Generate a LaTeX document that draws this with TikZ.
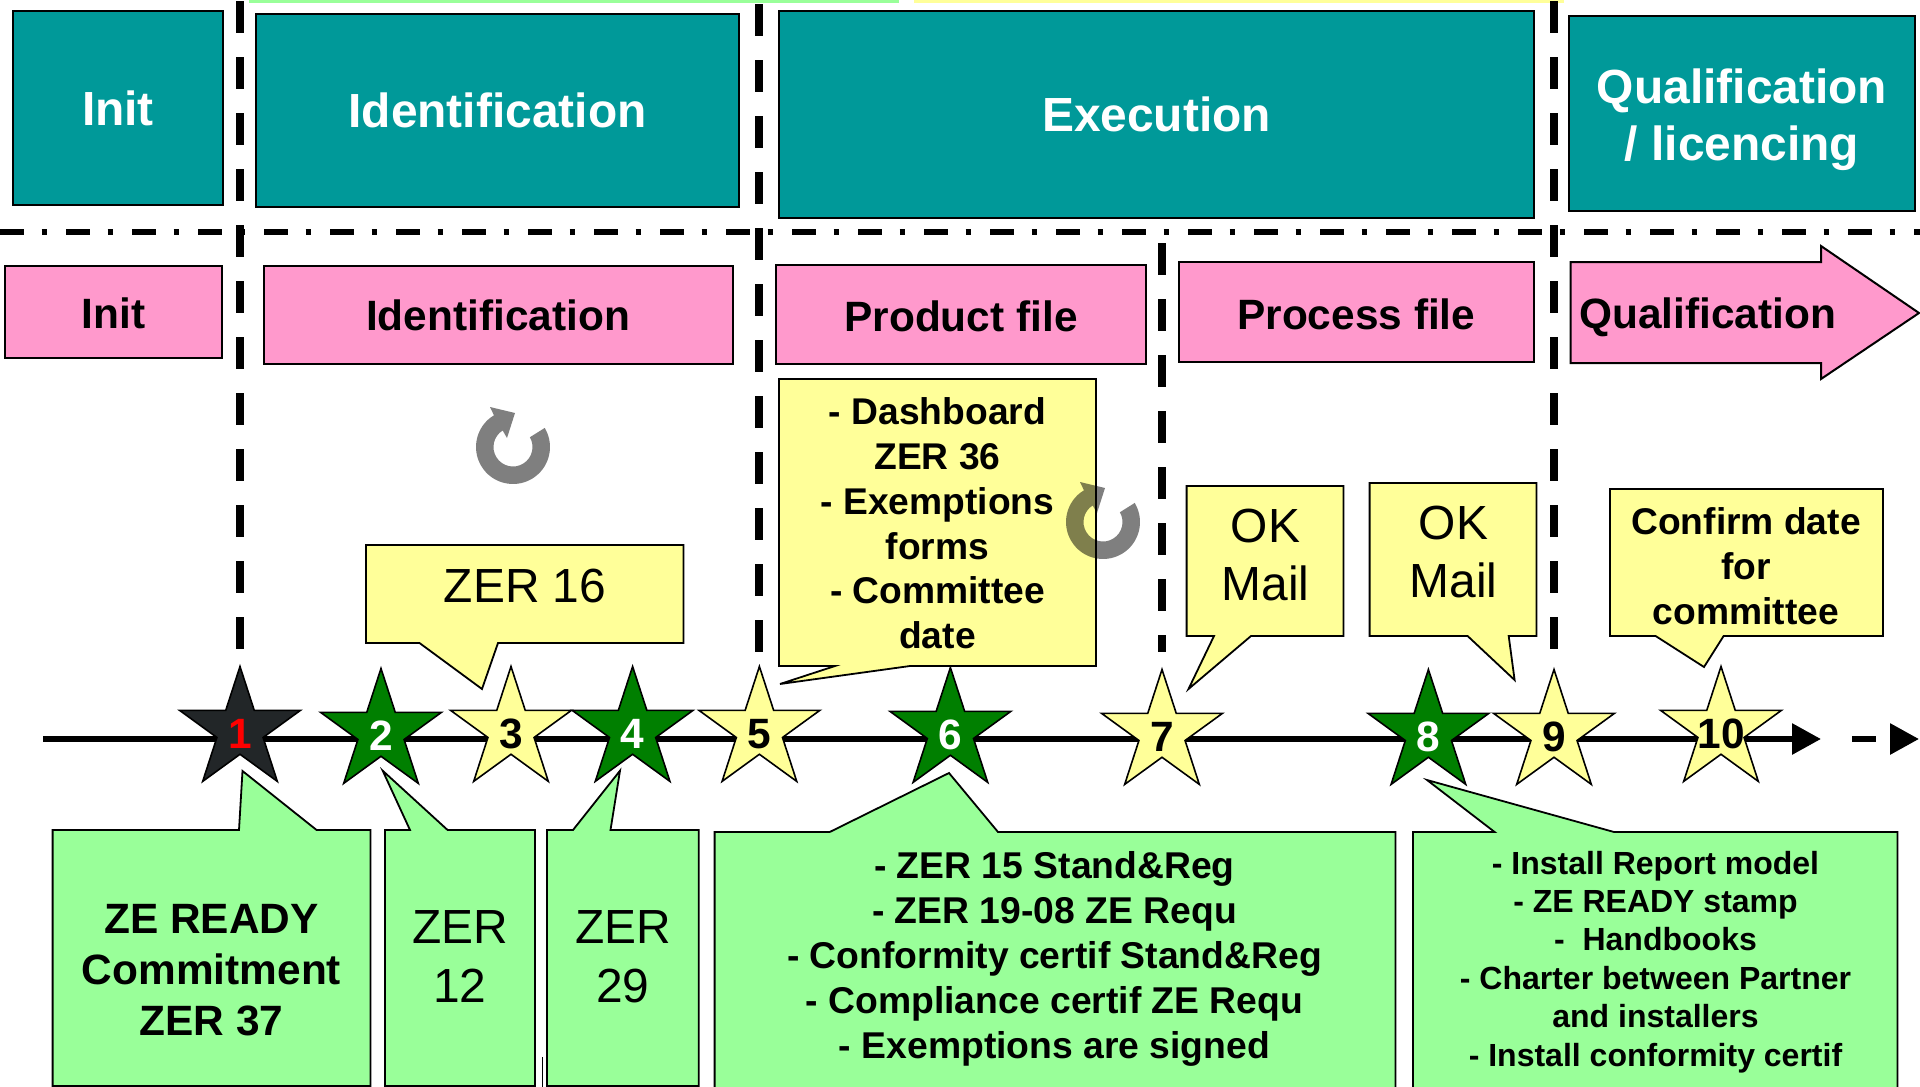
\documentclass[tikz,border=0pt]{standalone}
\usepackage{fontspec}
\setmainfont{Liberation Sans}
\usetikzlibrary{shapes.geometric,arrows.meta}
\definecolor{tealbox}{HTML}{009999}
\definecolor{pinkbox}{HTML}{FF99CC}
\definecolor{notey}{HTML}{FFFF99}
\definecolor{noteg}{HTML}{99FF99}
\definecolor{stargreen}{HTML}{007F00}
\definecolor{stardark}{HTML}{222628}
\newcommand{\starnum}[1]{\makebox[0pt]{\raisebox{-18.5pt}[0pt][0pt]{#1}}}
\newcommand{\fs}[2]{\fontsize{#1pt}{#2pt}\selectfont}
\newcommand{\topst}{\rule{0pt}{.75em}}
\newcommand{\botst}{\rule[-.2em]{0pt}{.2em}}
\newcommand{\lowerby}[2]{\raisebox{-#1}[\height][\depth]{#2}}
\tikzset{
  x=1pt,y=-1pt,
  phasebox/.style={draw=black,line width=2pt,fill=tealbox,text=white,inner sep=0pt,font=\fs{47.9}{57}\bfseries},
  stagebox/.style={draw=black,line width=2pt,fill=pinkbox,text=black,inner sep=0pt,font=\fs{42.4}{50}\bfseries},
  stagetext/.style={inner sep=0pt,font=\fs{42.4}{50}\bfseries},
  vline/.style={line width=8pt,dash pattern=on 32pt off 24pt},
  hline/.style={line width=6pt,dash pattern=on 24pt off 17.5pt on 5pt off 19.5pt},
  axisline/.style={line width=6pt,-{Triangle[length=29pt,width=30pt]}},
  axistail/.style={line width=6pt,dash pattern=on 24pt off 100pt,-{Triangle[length=29pt,width=30pt]}},
  yellownote/.style={draw=black,line width=1.8pt,fill=notey,line join=miter},
  greennote/.style={draw=black,line width=1.8pt,fill=noteg,line join=miter},
  milestone/.style={star,star points=5,star point ratio=2.618,minimum size=127pt,inner sep=0pt,outer sep=0pt,draw=black,line width=1.6pt,font=\fs{42.4}{48}\bfseries},
  okstar/.style={milestone,fill=notey,text=black},
  gostar/.style={milestone,fill=stargreen,text=white},
  firststar/.style={milestone,fill=stardark,text=red},
  notetext/.style={inner sep=0pt,align=center},
  rotmark/.pic={
    \fill[black,opacity=.5] (31:37pt) arc[start angle=31,end angle=-239,radius=37pt]
      -- (-23pt,40pt) -- (2pt,34pt) -- (-6pt,9pt) -- (122:19.5pt)
      arc[start angle=-238,end angle=30,radius=19.5pt] -- cycle;
  }
}
\begin{document}
\begin{tikzpicture}
\clip (0,0) rectangle (1920,1087);
\fill[white] (0,0) rectangle (1920,1087);
% top stripes
\fill[noteg] (249,0) rectangle (899,3);
\fill[notey] (914,0) rectangle (1564,3);
% phase boxes
\node[phasebox,minimum width=210pt,minimum height=194pt] (p1) at (118,108) {Init};
\node[phasebox,minimum width=483pt,minimum height=193pt] (p2) at (497.5,110) {Identification};
\node[phasebox,minimum width=755pt,minimum height=207pt] (p3) at (1156.5,114.5) {Execution};
\node[phasebox,minimum width=346pt,minimum height=195pt] (p4) at (1742,113.5) {};
\node[notetext,text=white,font=\fs{47.9}{57}\bfseries] (p4t) at (1742,119) {\topst Qualification\\/ licencing\botst};
% separators
\coordinate (hl) at (0,232); \coordinate (hr) at (1920,232);
\draw[hline] (hl) -- (hr);
\coordinate (v1a) at (240,1); \coordinate (v1b) at (240,649);
\coordinate (v2a) at (759,4); \coordinate (v2b) at (759,652);
\coordinate (v3a) at (1162,243); \coordinate (v3b) at (1162,652);
\coordinate (v4a) at (1554,1); \coordinate (v4b) at (1554,649);
\draw[vline] (v1a) -- (v1b);
\draw[vline] (v2a) -- (v2b);
\draw[vline] (v3a) -- (v3b);
\draw[vline] (v4a) -- (v4b);
% stage boxes
\node[stagebox,minimum width=217pt,minimum height=92pt] (s1) at (113.5,312) {\lowerby{1.5pt}{Init}};
\node[stagebox,minimum width=469pt,minimum height=98pt] (s2) at (498,315) {\lowerby{0.5pt}{Identification}};
\node[stagebox,minimum width=370pt,minimum height=99pt] (s3) at (961,314.5) {\lowerby{1.5pt}{Product file}};
\node[stagebox,minimum width=355.5pt,minimum height=100pt] (s4) at (1356.3,312) {\lowerby{2.5pt}{Process file}};
\draw[draw=black,line width=2pt,fill=pinkbox] (1570.5,262) -- (1821,262) -- (1821,246) -- (1919,313) -- (1821,379) -- (1821,363) -- (1570.5,363) -- cycle;
\node[stagetext] (s5) at (1707.5,317.5) {Qualification};
% timeline
\coordinate (ax0) at (43,739); \coordinate (ax1) at (1821,739);
\coordinate (ax2) at (1852,739); \coordinate (ax3) at (1919,739);
\draw[axisline] (ax0) -- (ax1);
\draw[axistail] (ax2) -- (ax3);
% milestones
\node[firststar] (m1) at (240,730) {\starnum{1}};
\node[gostar] (m2) at (381,732) {\starnum{2}};
\node[okstar] (m3) at (511,730) {\starnum{3}};
\node[gostar] (m4) at (632.6,730) {\starnum{4}};
\node[okstar] (m5) at (759.4,730) {\starnum{5}};
\node[gostar] (m6) at (950.4,731) {\starnum{6}};
\node[okstar] (m7) at (1162,733) {\starnum{7}};
\node[gostar] (m8) at (1428.4,733) {\starnum{8}};
\node[okstar] (m9) at (1554,733) {\starnum{9}};
\node[okstar] (m10) at (1721,730) {\starnum{10}};
% rotation marks (first)
\pic at (513,447) {rotmark};
% yellow notes
\draw[yellownote] (366,545) -- (683.5,545) -- (683.5,643) -- (498,643) -- (482,689) -- (419.5,643) -- (366,643) -- cycle;
\node[notetext,font=\fs{47.9}{57}] (n1) at (525,586) {ZER 16};
\draw[yellownote] (779,379) -- (1096,379) -- (1096,666) -- (910,666) -- (780,684) -- (835,666) -- (779,666) -- cycle;
\node[notetext,font=\fs{37.2}{44.8}\bfseries] (n2) at (937.5,526.5) {\topst - Dashboard\\ZER 36\\- Exemptions\\forms\\- Committee\\date\botst};
\draw[yellownote] (1186.6,486) -- (1343.5,486) -- (1343.5,636) -- (1251,636) -- (1188.5,689) -- (1214,636) -- (1186.6,636) -- cycle;
\node[notetext,font=\fs{47.9}{58}] (n3) at (1265.5,558) {\topst OK\\Mail\botst};
\draw[yellownote] (1369.6,483) -- (1536.5,483) -- (1536.5,636) -- (1508.7,636) -- (1514.6,680) -- (1467.6,636) -- (1369.6,636) -- cycle;
\node[notetext,font=\fs{47.9}{58}] (n4) at (1453.5,555) {\topst OK\\Mail\botst};
\draw[yellownote] (1610,489) -- (1883,489) -- (1883,636) -- (1723.6,636) -- (1704,667) -- (1655.6,636) -- (1610,636) -- cycle;
\node[notetext,font=\fs{37.2}{44.8}\bfseries] (n5) at (1746,569) {\topst Confirm date\\for\\committee\botst};
\pic at (1103,522) {rotmark};
% green notes
\draw[greennote] (52.6,830) -- (239,830) -- (242.5,771) -- (316.6,830) -- (370.5,830) -- (370.5,1086) -- (52.6,1086) -- cycle;
\node[notetext,font=\fs{42.4}{51}\bfseries] (g1) at (211.5,972.5) {\topst ZE READY\\Commitment\\ZER 37\botst};
\draw[greennote] (385,830) -- (410,830) -- (382.7,770.7) -- (447.6,830) -- (535,830) -- (535,1086) -- (385,1086) -- cycle;
\node[notetext,font=\fs{47.9}{58.5}] (g2) at (460,960) {\topst ZER\\12\botst};
\draw[greennote] (547,830) -- (573,830) -- (620,770.7) -- (610.5,830) -- (698.7,830) -- (698.7,1086) -- (547,1086) -- cycle;
\node[notetext,font=\fs{47.9}{58.5}] (g3) at (623,960) {\topst ZER\\29\botst};
\coordinate (st0) at (542.5,1057); \coordinate (st1) at (542.5,1087);
\draw[line width=1.2pt] (st0) -- (st1);
\draw[greennote] (714.6,832) -- (829.7,832) -- (949,773) -- (998,832) -- (1395.4,832) -- (1395.4,1095) -- (714.6,1095) -- cycle;
\node[notetext,font=\fs{37.3}{44.95}\bfseries] (g4) at (1054.5,958.6) {\topst - ZER 15 Stand\&Reg\\- ZER 19-08 ZE Requ\\- Conformity certif Stand\&Reg\\- Compliance certif ZE Requ\\- Exemptions are signed\botst};
\draw[greennote] (1413,832) -- (1494.6,832) -- (1427,780) -- (1614,832) -- (1897.5,832) -- (1897.5,1095) -- (1413,1095) -- cycle;
\node[notetext,font=\fs{32}{38.46}\bfseries] (g5) at (1655.5,961.5) {\topst - Install Report model\\- ZE READY stamp\\-\ \ Handbooks\\- Charter between Partner\\and installers\\- Install conformity certif\botst};
\end{tikzpicture}
\end{document}
